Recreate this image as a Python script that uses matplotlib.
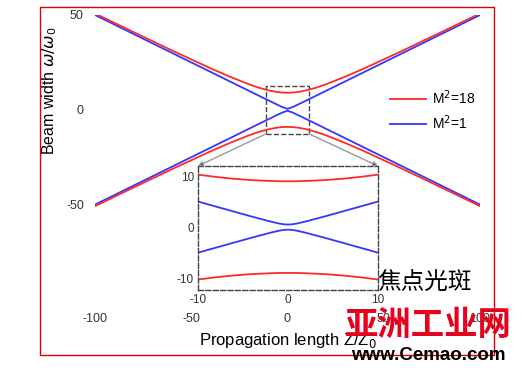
import matplotlib
matplotlib.use("Agg")
import matplotlib.pyplot as plt
from matplotlib.patches import Rectangle, ConnectionPatch

plt.rcParams['font.family'] = ['Liberation Sans', 'DejaVu Sans']
plt.rcParams['axes.unicode_minus'] = False

# beam width (upper branch, lower branch is the mirror)
z_main = [-100, -80, -60, -40, -30, -20, -15, -10, -6, -3, 0, 3, 6, 10, 15, 20, 30, 40, 60, 80, 100]
red_main = [50.8, 41.0, 31.3, 21.9, 17.5, 13.45, 11.7, 10.3, 9.5, 9.12, 9.0,
            9.12, 9.5, 10.3, 11.7, 13.45, 17.5, 21.9, 31.3, 41.0, 50.8]
blue_main = [50.0, 40.0, 30.0, 20.0, 15.0, 10.0, 7.5, 5.02, 3.04, 1.58, 0.5,
             1.58, 3.04, 5.02, 7.5, 10.0, 15.0, 20.0, 30.0, 40.0, 50.0]

z_zoom = [-10, -8, -6, -4, -2, -1, -0.5, 0, 0.5, 1, 2, 4, 6, 8, 10]
red_zoom = [10.3, 9.85, 9.49, 9.22, 9.06, 9.01, 9.0, 9.0, 9.0, 9.01, 9.06, 9.22, 9.49, 9.85, 10.3]
blue_zoom = [5.02, 4.03, 3.04, 2.06, 1.12, 0.71, 0.56, 0.5, 0.56, 0.71, 1.12, 2.06, 3.04, 4.03, 5.02]

labels = ["M$^2$=18", "M$^2$=1"]
red = "#ff2a2a"
blue = "#3535ff"
grey_txt = "#333333"

fig = plt.figure(figsize=(5.23, 3.70), dpi=100)

# red frame round the whole picture
fig.patches.append(Rectangle((40/523, 1-355/370), 454/523, 348/370, transform=fig.transFigure,
                             fill=False, edgecolor="#dd0000", lw=1))

ax = fig.add_axes([95/523, 1-307/370, 385/523, 292/370])
ax.plot(z_main, blue_main, color=blue, lw=1.3, label=labels[1])
ax.plot(z_main, [-v for v in blue_main], color=blue, lw=1.3)
ax.plot(z_main, red_main, color=red, lw=1.3, label=labels[0])
ax.plot(z_main, [-v for v in red_main], color=red, lw=1.3)
ax.set_xlim(-100, 100)
ax.set_ylim(-104, 50)
ax.set_xticks([-100, -50, 0, 50, 100])
ax.set_yticks([-50, 0, 50])
ax.tick_params(length=0, labelsize=9, colors=grey_txt, pad=4)
ax.tick_params(axis="y", pad=8)
for s in ax.spines.values():
    s.set_visible(False)
ax.patch.set_alpha(0)

h, l = ax.get_legend_handles_labels()
ax.legend([h[1], h[0]], [l[1], l[0]], loc="center left", bbox_to_anchor=(383/523, 1-110/370),
          bbox_transform=fig.transFigure, frameon=False, fontsize=10, handlelength=2.6,
          handletextpad=0.4, borderpad=0, labelspacing=0.45)

box = Rectangle((-11, -12.6), 22, 25.2, fill=False, ls="--", lw=1, edgecolor="#444444")
ax.add_patch(box)

# zoomed view of the waist
ins = fig.add_axes([198/523, 1-290/370, 180/523, 124/370])
ins.plot(z_zoom, red_zoom, color=red, lw=1.3)
ins.plot(z_zoom, [-v for v in red_zoom], color=red, lw=1.3)
ins.plot(z_zoom, blue_zoom, color=blue, lw=1.3)
ins.plot(z_zoom, [-v for v in blue_zoom], color=blue, lw=1.3)
ins.set_xlim(-10, 10)
ins.set_ylim(-12.35, 12)
ins.set_xticks([-10, 0, 10])
ins.set_yticks([-10, 0, 10])
ins.tick_params(length=0, labelsize=8.5, colors=grey_txt, pad=3)
for s in ins.spines.values():
    s.set_linestyle("--")
    s.set_edgecolor("#444444")
    s.set_linewidth(1)
ins.patch.set_alpha(0)

for xa, xb in [(-11, -10), (11, 10)]:
    con = ConnectionPatch(xyA=(xa, -12.6), coordsA=ax.transData, xyB=(xb, 12), coordsB=ins.transData,
                          arrowstyle="-|>", mutation_scale=7, edgecolor="#999999", facecolor="black", lw=1)
    fig.add_artist(con)

fig.text(288/523, 1-340/370, "Propagation length Z/Z$_0$", ha="center", va="center", fontsize=12)
fig.text(50/523, 1-91/370, r"Beam width $\omega/\omega_0$", ha="center", va="center",
         rotation=90, fontsize=11.5)

# watermarks
fig.text(424/523, 1-282/370, "焦点光斑", ha="center", va="center", fontsize=17,
         family=["Noto Sans CJK SC", "DejaVu Sans"], color="black")
fig.text(428/523, 1-325/370, "亚洲工业网", ha="center", va="center", fontsize=24, weight="black",
         family=["Noto Sans CJK SC", "DejaVu Sans"], color="#e8001c")
fig.text(428/523, 1-355/370, "www.Cemao.com", ha="center", va="center", fontsize=13.5,
         weight="bold", color="black")

fig.savefig("out.png", dpi=100)
